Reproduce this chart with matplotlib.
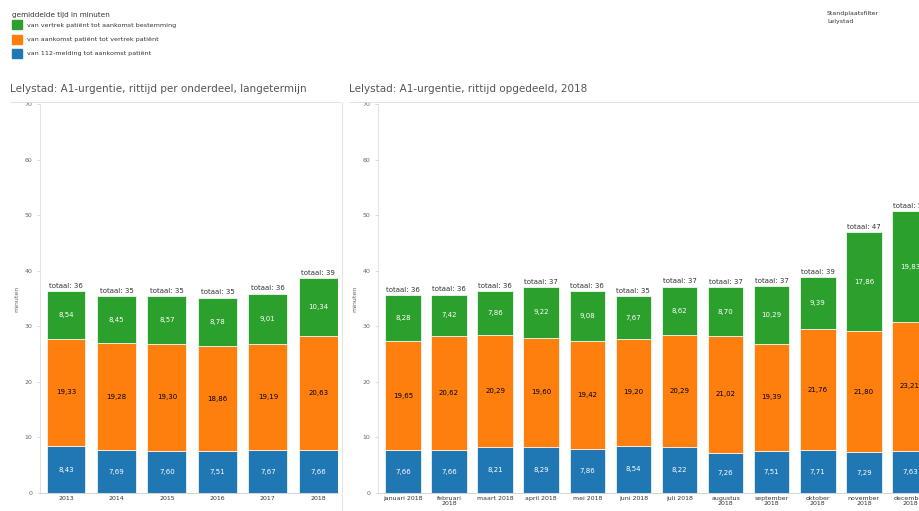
import matplotlib.pyplot as plt
import numpy as np
from matplotlib.patches import Rectangle

# gegevens per jaar (langetermijn)
jaren = ['2013', '2014', '2015', '2016', '2017', '2018']
jaar_melding = [8.43, 7.69, 7.60, 7.51, 7.67, 7.66]
jaar_aankomst = [19.33, 19.28, 19.30, 18.86, 19.19, 20.63]
jaar_vertrek = [8.54, 8.45, 8.57, 8.78, 9.01, 10.34]

# gegevens per maand 2018
maanden = ['januari 2018', 'februari\n2018', 'maart 2018', 'april 2018', 'mei 2018', 'juni 2018',
           'juli 2018', 'augustus\n2018', 'september\n2018', 'oktober\n2018', 'november\n2018',
           'december\n2018']
maand_melding = [7.66, 7.66, 8.21, 8.29, 7.86, 8.54, 8.22, 7.26, 7.51, 7.71, 7.29, 7.63]
maand_aankomst = [19.65, 20.62, 20.29, 19.60, 19.42, 19.20, 20.29, 21.02, 19.39, 21.76, 21.80, 23.21]
maand_vertrek = [8.28, 7.42, 7.86, 9.22, 9.08, 7.67, 8.62, 8.70, 10.29, 9.39, 17.86, 19.83]

blauw = '#1f77b4'
oranje = '#ff7f0e'
groen = '#2ca02c'
grijs = '#666666'

fig = plt.figure(figsize=(9.2, 5.11), dpi=100)


def teken(ax, labels, melding, aankomst, vertrek, xlim):
    x = np.arange(len(labels))
    melding = np.array(melding)
    aankomst = np.array(aankomst)
    vertrek = np.array(vertrek)
    ax.bar(x, melding, 0.77, color=blauw, edgecolor='white', linewidth=0.5)
    ax.bar(x, aankomst, 0.77, bottom=melding, color=oranje, edgecolor='white', linewidth=0.5)
    ax.bar(x, vertrek, 0.77, bottom=melding + aankomst, color=groen, edgecolor='white', linewidth=0.5)
    for i in range(len(x)):
        ax.text(x[i], melding[i] / 2, f'{melding[i]:.2f}'.replace('.', ','), ha='center', va='center',
                fontsize=5, color='white')
        ax.text(x[i], melding[i] + aankomst[i] / 2, f'{aankomst[i]:.2f}'.replace('.', ','),
                ha='center', va='center', fontsize=5, color='black')
        ax.text(x[i], melding[i] + aankomst[i] + vertrek[i] / 2, f'{vertrek[i]:.2f}'.replace('.', ','),
                ha='center', va='center', fontsize=5, color='white')
        totaal = melding[i] + aankomst[i] + vertrek[i]
        ax.text(x[i], totaal + 0.4, f'totaal: {round(totaal)}', ha='center', va='bottom',
                fontsize=5, color='#333333')
    ax.set_xticks(x)
    ax.set_xticklabels(labels, fontsize=4.5, color='#333333', linespacing=1.0)
    ax.set_ylim(0, 70)
    ax.set_yticks(range(0, 71, 10))
    ax.tick_params(axis='y', labelsize=4.5, labelcolor=grijs, length=2, color='#cccccc', width=0.5)
    ax.tick_params(axis='x', length=0, pad=2)
    ax.set_xlim(*xlim)
    ax.set_ylabel('minuten', fontsize=4.5, color=grijs, labelpad=4)
    for s in ['top', 'right']:
        ax.spines[s].set_visible(False)
    ax.spines['left'].set_color('#dddddd')
    ax.spines['left'].set_linewidth(0.6)
    ax.spines['bottom'].set_color('#cccccc')
    ax.spines['bottom'].set_linewidth(0.6)


ax1 = fig.add_axes([40 / 920, 0.0352, 298 / 920, 0.7613])
teken(ax1, jaren, jaar_melding, jaar_aankomst, jaar_vertrek, (-0.515, 5.39))

ax2 = fig.add_axes([378 / 920, 0.0352, 555 / 920, 0.7613])
teken(ax2, maanden, maand_melding, maand_aankomst, maand_vertrek, (-0.54, 11.5))

# titels en scheidingslijnen
fig.text(10 / 920, 1 - 89 / 511, 'Lelystad: A1-urgentie, rittijd per onderdeel, langetermijn',
         fontsize=7.5, color='#555555', va='center')
fig.text(349 / 920, 1 - 89 / 511, 'Lelystad: A1-urgentie, rittijd opgedeeld, 2018',
         fontsize=7.5, color='#555555', va='center')
fig.add_artist(plt.Line2D([10 / 920, 340 / 920], [1 - 102 / 511] * 2, color='#dddddd', lw=0.6))
fig.add_artist(plt.Line2D([349 / 920, 1], [1 - 102 / 511] * 2, color='#dddddd', lw=0.6))
fig.add_artist(plt.Line2D([342 / 920] * 2, [0, 1 - 102 / 511], color='#dddddd', lw=0.6))

# legenda
fig.text(12 / 920, 1 - 15 / 511, 'gemiddelde tijd in minuten', fontsize=5.2, color='#333333', va='center')
legenda = [(groen, 'van vertrek patiënt tot aankomst bestemming'),
           (oranje, 'van aankomst patiënt tot vertrek patiënt'),
           (blauw, 'van 112-melding tot aankomst patiënt')]
for i, (kleur, tekst) in enumerate(legenda):
    y = 1 - (25 + i * 14.5) / 511
    fig.add_artist(Rectangle((12 / 920, y - 4.5 / 511), 10 / 920, 9 / 511, color=kleur,
                             transform=fig.transFigure))
    fig.text(27 / 920, y, tekst, fontsize=4.6, color='#333333', va='center')

fig.text(827 / 920, 1 - 13 / 511, 'Standplaatsfilter', fontsize=4.5, color='#333333', va='center')
fig.text(827 / 920, 1 - 21 / 511, 'Lelystad', fontsize=4.5, color='#333333', va='center')

plt.savefig('out.png', dpi=100)
